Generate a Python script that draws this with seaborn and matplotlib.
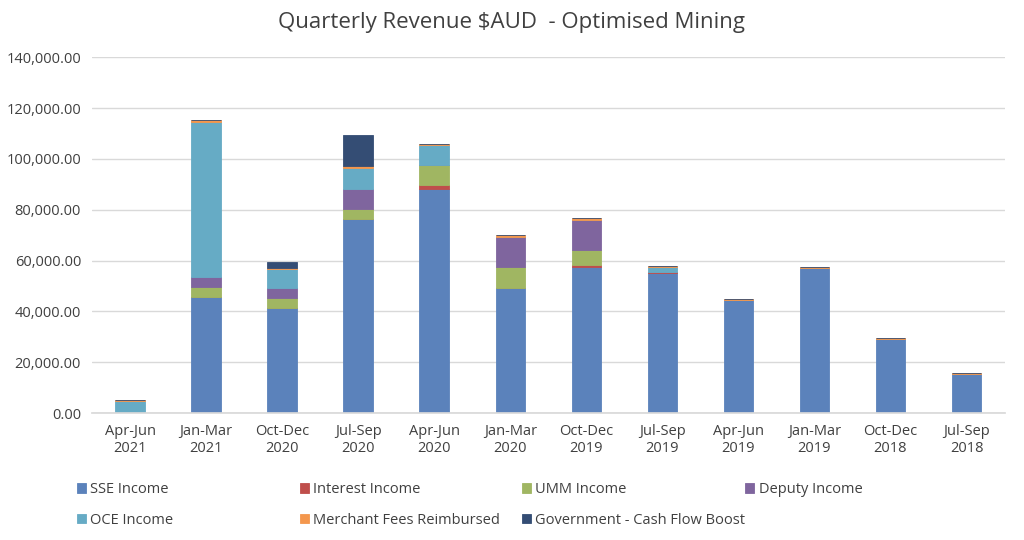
import pandas as pd
import numpy as np
import matplotlib
matplotlib.use("Agg")
import matplotlib.pyplot as plt
import seaborn as sns
from matplotlib.ticker import FuncFormatter

# DATA
quarters = ["Apr-Jun\n2021", "Jan-Mar\n2021", "Oct-Dec\n2020", "Jul-Sep\n2020",
            "Apr-Jun\n2020", "Jan-Mar\n2020", "Oct-Dec\n2019", "Jul-Sep\n2019",
            "Apr-Jun\n2019", "Jan-Mar\n2019", "Oct-Dec\n2018", "Jul-Sep\n2018"]

sse_income = [0, 45600, 41200, 76400, 88300, 49400, 57400, 55100, 44600, 56900, 29000, 15300]
interest_income = [0, 0, 0, 0, 1300, 0, 1000, 500, 0, 0, 0, 0]
umm_income = [0, 4200, 4200, 4000, 8000, 7900, 5600, 0, 0, 0, 0, 0]
deputy_income = [0, 3800, 4000, 7700, 0, 11800, 11900, 0, 0, 0, 0, 0]
oce_income = [4700, 61100, 7400, 8300, 7800, 0, 0, 1800, 0, 0, 0, 0]
merchant_fees = [500, 500, 300, 700, 400, 900, 900, 500, 400, 500, 400, 400]
gov_boost = [0, 0, 2200, 12300, 0, 0, 0, 0, 0, 0, 0, 0]

series = [
    ("SSE Income", sse_income, "#5B82BB"),
    ("Interest Income", interest_income, "#BF4E4B"),
    ("UMM Income", umm_income, "#A0B662"),
    ("Deputy Income", deputy_income, "#7F659E"),
    ("OCE Income", oce_income, "#66ABC5"),
    ("Merchant Fees Reimbursed", merchant_fees, "#F4974D"),
    ("Government - Cash Flow Boost", gov_boost, "#344D74"),
]

sns.set_theme(style="white")
plt.rcParams["font.family"] = ["Open Sans", "DejaVu Sans"]

fig = plt.figure(figsize=(10.24, 5.4), dpi=100)
ax = fig.add_axes([0.09, 0.235, 0.891, 0.659])

bottom = np.zeros(len(quarters))
for name, vals, col in series:
    df = pd.DataFrame({"Quarter": quarters, "Value": vals})
    sns.barplot(data=df, x="Quarter", y="Value", order=quarters, color=col,
                bottom=bottom, width=0.39, errorbar=None, label=name, ax=ax,
                edgecolor=col, linewidth=0.6, saturation=1)
    bottom = bottom + np.array(vals)

ax.set_ylim(0, 140000)
ax.set_yticks(range(0, 140001, 20000))
ax.yaxis.set_major_formatter(FuncFormatter(lambda v, p: f"{v:,.2f}"))
ax.grid(axis="y", color="#D9D9D9", linewidth=1)
ax.set_axisbelow(True)
for s in ["top", "right", "left"]:
    ax.spines[s].set_visible(False)
ax.spines["bottom"].set_color("#D9D9D9")
ax.tick_params(axis="both", length=0, labelsize=10.5, colors="#404040", pad=8)
ax.set_xlabel("")
ax.set_ylabel("")
ax.set_xlim(-0.5, len(quarters) - 0.5)

fig.suptitle("Quarterly Revenue $AUD  - Optimised Mining", y=0.978,
             fontsize=16, color="#404040")

handles, labels = ax.get_legend_handles_labels()
if ax.legend_:
    ax.legend_.remove()
# legend laid out row by row, four fixed-width columns
col_x = [0.075, 0.293, 0.510, 0.728]
for c in range(4):
    idx = [i for i in (c, c + 4) if i < len(handles)]
    fig.legend([handles[i] for i in idx], [labels[i] for i in idx],
               loc="upper left", bbox_to_anchor=(col_x[c], 0.107),
               ncol=1, frameon=False, fontsize=10.5, handlelength=0.6,
               handleheight=0.6, handletextpad=0.3, labelspacing=1.05,
               labelcolor="#404040", borderaxespad=0, borderpad=0)

fig.savefig("out.png", dpi=100)
